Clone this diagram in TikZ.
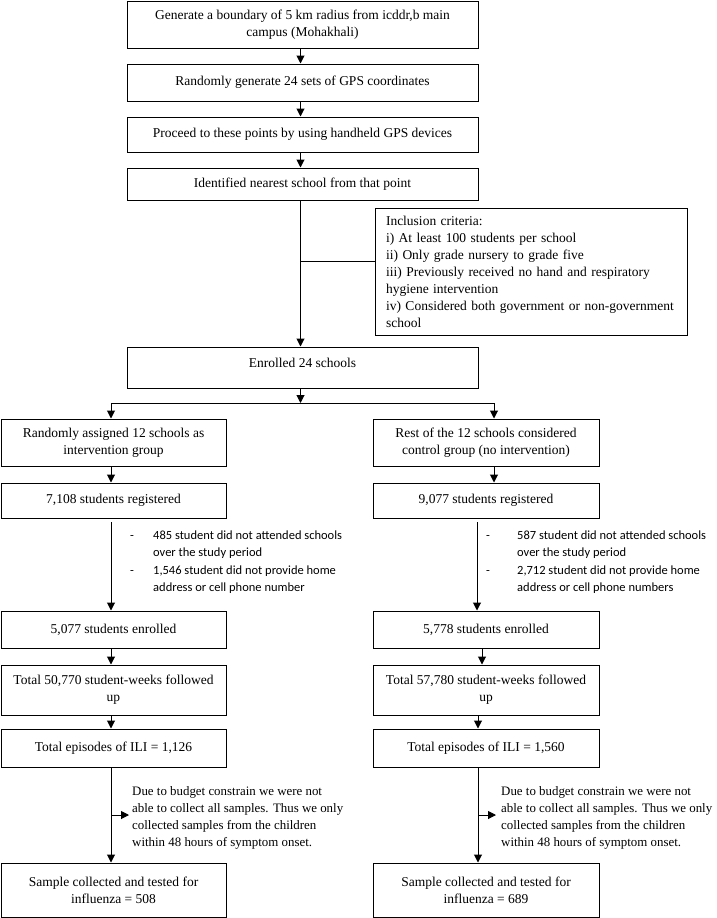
\documentclass[tikz,border=0pt]{standalone}
\usepackage{fontspec}
\setmainfont{Liberation Serif}
\newfontfamily\notefont{Carlito}
\usetikzlibrary{arrows.meta}
\newcommand\flowbox[7][]{\node[box,minimum width={#5-#3},minimum height={#6-#4},#1] (#2) at ({(#3+#5)/2},{(#4+#6)/2}) {#7};}
\begin{document}
\begin{tikzpicture}[x=1pt,y=-1pt,
  box/.style={draw,line width=1pt,inner sep=0pt,align=center,font=\fontsize{13.5}{17}\selectfont},
  arr/.style={line width=1pt,-{Triangle[length=8pt,width=8pt]}},
  ln/.style={line width=1pt},
  note/.style={inner sep=0pt,anchor=west,align=left,font=\fontsize{12.9}{17}\selectfont},
  excl/.style={inner sep=0pt,anchor=west,font=\notefont\fontsize{12.5}{17.3}\selectfont}]
\useasboundingbox (0,0) rectangle (716,918);
% top column
\flowbox{b1}{127}{1}{478}{48}{Generate a boundary of 5 km radius from icddr,b main\\campus (Mohakhali)}
\flowbox{b2}{127}{64}{478}{101}{Randomly generate 24 sets of GPS coordinates}
\flowbox{b3}{127}{117}{478}{152}{Proceed to these points by using handheld GPS devices}
\flowbox{b4}{127}{168}{478}{200}{Identified nearest school from that point}
\flowbox[align=left,text width=290pt,inner xsep=11pt]{incl}{375}{208}{687}{335}{Inclusion criteria:\\i) At least 100 students per school\\ii) Only grade nursery to grade five\\iii) Previously received no hand and respiratory\\hygiene intervention\\iv) Considered both government or non-government\\school}
\flowbox[text height=9pt,text depth=9pt]{enr}{127}{347}{478}{388}{Enrolled 24 schools}
% left column
\flowbox{L1}{1}{419}{226}{466}{Randomly assigned 12 schools as\\intervention group}
\flowbox{L2}{1}{483}{226}{518}{7,108 students registered}
\flowbox{L3}{1}{611}{226}{648}{5,077 students enrolled}
\flowbox{L4}{1}{665}{226}{715}{Total 50,770 student-weeks followed\\up}
\flowbox{L5}{1}{729}{226}{767}{Total episodes of ILI = 1,126}
\flowbox{L6}{1}{863}{226}{917}{Sample collected and tested for\\influenza = 508}
% right column
\flowbox{R1}{373}{419}{599}{466}{Rest of the 12 schools considered\\control group (no intervention)}
\flowbox{R2}{373}{483}{599}{518}{9,077 students registered}
\flowbox{R3}{373}{611}{599}{648}{5,778 students enrolled}
\flowbox{R4}{373}{665}{599}{715}{Total 57,780 student-weeks followed\\up}
\flowbox{R5}{373}{729}{599}{767}{Total episodes of ILI = 1,560}
\flowbox{R6}{373}{863}{599}{917}{Sample collected and tested for\\influenza = 689}
% notes
\node[excl] (ex1) at (130,562) {\begin{tabular}{@{}p{23pt}@{}l@{}}-&485 student did not attended schools\\&over the study period\\-&1,546 student did not provide home\\&address or cell phone number\end{tabular}};
\node[excl] (ex2) at (486,562) {\begin{tabular}{@{}p{31pt}@{}l@{}}-&587 student did not attended schools\\&over the study period\\-&2,712 student did not provide home\\&address or cell phone numbers\end{tabular}};
\node[note] (n1) at (132,818) {Due to budget constrain we were not\\able to collect all samples. Thus we only\\collected samples from the children\\within 48 hours of symptom onset.};
\node[note] (n2) at (501,818) {Due to budget constrain we were not\\able to collect all samples. Thus we only\\collected samples from the children\\within 48 hours of symptom onset.};
% coordinates
\coordinate (cx) at (300.5,0);
\coordinate (lx) at (111,0);
\coordinate (rxa) at (494,0);
\coordinate (rxb) at (477,0);
\coordinate (rxc) at (482,0);
\coordinate (rxd) at (478,0);
\coordinate (ib) at (300.5,261);
\coordinate (bl) at (111,403);
\coordinate (br) at (494,403);
\coordinate (lg) at (111,522);
\coordinate (rg) at (477,522);
\coordinate (ls) at (111,815);
\coordinate (lse) at (129,815);
\coordinate (rs) at (478,815);
\coordinate (rse) at (496,815);
% connectors top
\draw[arr] (b1.south -| cx) -- (b2.north -| cx);
\draw[arr] (b2.south -| cx) -- (b3.north -| cx);
\draw[arr] (b3.south -| cx) -- (b4.north -| cx);
\draw[arr] (b4.south -| cx) -- (enr.north -| cx);
\draw[ln] (ib) -- (incl.west |- ib);
\draw[arr] (enr.south -| cx) -- (cx |- bl);
\draw[ln] (bl) -- (br);
\draw[arr] (bl) -- (L1.north -| lx);
\draw[arr] (br) -- (R1.north -| rxa);
% left connectors
\draw[arr] (L1.south -| lx) -- (L2.north -| lx);
\draw[arr] (lg) -- (L3.north -| lx);
\draw[arr] (L3.south -| lx) -- (L4.north -| lx);
\draw[arr] (L4.south -| lx) -- (L5.north -| lx);
\draw[arr] (L5.south -| lx) -- (L6.north -| lx);
\draw[arr] (ls) -- (lse);
% right connectors
\draw[arr] (R1.south -| rxa) -- (R2.north -| rxa);
\draw[arr] (rg) -- (R3.north -| rxb);
\draw[arr] (R3.south -| rxc) -- (R4.north -| rxc);
\draw[arr] (R4.south -| rxd) -- (R5.north -| rxd);
\draw[arr] (R5.south -| rxd) -- (R6.north -| rxd);
\draw[arr] (rs) -- (rse);
\end{tikzpicture}
\end{document}
